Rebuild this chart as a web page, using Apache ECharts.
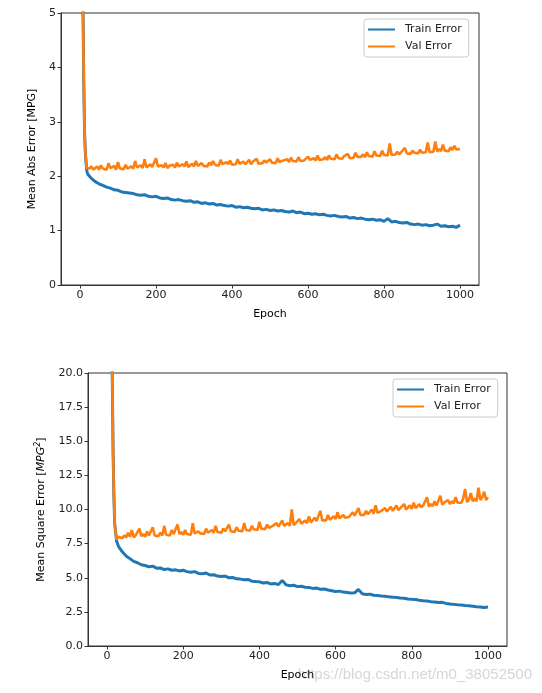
<!DOCTYPE html>
<html><head><meta charset="utf-8">
<script src="https://cdn.jsdelivr.net/npm/echarts@6/dist/echarts.min.js"></script>
<style>html,body{margin:0;padding:0;background:#fff}#c{width:542px;height:693px}</style>
</head><body><div id="c"></div>
<script>
// Epochs (train: every 10, val: every 5)
const epochsTrain = [0,2,4,6,8,10,12,14,16,18,20,25,30,
 40,50,60,70,80,90,100,110,120,130,
 140,150,160,170,180,190,200,210,220,230,
 240,250,260,270,280,290,300,310,320,330,
 340,350,360,370,380,390,400,410,420,430,
 440,450,460,470,480,490,500,510,520,530,
 540,550,560,570,580,590,600,610,620,630,
 640,650,660,670,680,690,700,710,720,730,
 740,750,760,770,780,790,800,810,820,830,
 840,850,860,870,880,890,900,910,920,930,
 940,950,960,970,980,990,1000];

const epochsVal = [0,2,4,6,8,10,12,14,16,18,20,25,30,35,
 40,45,50,55,60,65,70,75,80,85,90,95,100,105,110,115,120,125,130,135,
 140,145,150,155,160,165,170,175,180,185,190,195,200,205,210,215,220,225,230,235,
 240,245,250,255,260,265,270,275,280,285,290,295,300,305,310,315,320,325,330,335,
 340,345,350,355,360,365,370,375,380,385,390,395,400,405,410,415,420,425,430,435,
 440,445,450,455,460,465,470,475,480,485,490,495,500,505,510,515,520,525,530,535,
 540,545,550,555,560,565,570,575,580,585,590,595,600,605,610,615,620,625,630,635,
 640,645,650,655,660,665,670,675,680,685,690,695,700,705,710,715,720,725,730,735,
 740,745,750,755,760,765,770,775,780,785,790,795,800,805,810,815,820,825,830,835,
 840,845,850,855,860,865,870,875,880,885,890,895,900,905,910,915,920,925,930,935,
 940,945,950,955,960,965,970,975,980,985,990,995,1000];

const maeTrain = [22,17,12,7.5,5.0,3.7,2.8,2.45,2.25,2.1,2.04,2.0,1.96,
 1.90,1.86,1.83,1.80,1.78,1.75,1.74,1.71,1.70,1.69,
 1.68,1.66,1.65,1.66,1.63,1.62,1.63,1.60,1.59,1.60,
 1.57,1.56,1.57,1.55,1.54,1.55,1.52,1.53,1.50,1.51,
 1.49,1.50,1.47,1.48,1.46,1.45,1.46,1.43,1.44,1.42,
 1.43,1.41,1.40,1.41,1.38,1.39,1.37,1.38,1.36,1.37,
 1.35,1.34,1.36,1.33,1.34,1.31,1.32,1.30,1.31,1.29,
 1.30,1.28,1.27,1.28,1.26,1.25,1.26,1.23,1.24,1.22,
 1.23,1.21,1.20,1.21,1.19,1.20,1.17,1.22,1.16,1.17,
 1.15,1.14,1.15,1.12,1.11,1.12,1.10,1.11,1.09,1.10,
 1.12,1.08,1.09,1.07,1.08,1.06,1.10];

const maeVal = [22,17,12,7.5,5.0,3.7,2.8,2.45,2.25,2.15,2.12,2.14,2.18,2.12,
 2.13,2.18,2.12,2.20,2.14,2.16,2.12,2.24,2.15,2.13,2.19,2.12,2.26,2.14,2.17,2.13,2.21,2.14,2.12,2.18,
 2.14,2.28,2.16,2.13,2.20,2.15,2.31,2.16,2.14,2.22,2.17,2.15,2.33,2.18,2.15,2.20,2.16,2.24,2.15,2.19,
 2.17,2.21,2.16,2.25,2.18,2.15,2.22,2.18,2.27,2.17,2.20,2.23,2.18,2.28,2.19,2.17,2.24,2.19,2.22,2.18,
 2.25,2.20,2.28,2.21,2.23,2.19,2.30,2.22,2.20,2.26,2.22,2.29,2.21,2.24,2.22,2.31,2.23,2.21,2.27,2.22,
 2.24,2.30,2.22,2.27,2.24,2.32,2.23,2.26,2.24,2.29,2.25,2.23,2.31,2.25,2.27,2.24,2.33,2.26,2.24,2.29,
 2.27,2.31,2.26,2.34,2.28,2.30,2.27,2.35,2.28,2.31,2.29,2.27,2.36,2.30,2.28,2.33,2.29,2.38,2.30,2.32,
 2.31,2.35,2.30,2.38,2.32,2.34,2.31,2.40,2.33,2.35,2.32,2.37,2.34,2.41,2.33,2.36,2.34,2.43,2.35,2.37,
 2.36,2.40,2.35,2.44,2.37,2.39,2.36,2.46,2.38,2.41,2.37,2.47,2.39,2.41,2.38,2.60,2.39,2.42,2.40,2.45,
 2.40,2.44,2.41,2.52,2.42,2.45,2.41,2.47,2.43,2.44,2.42,2.49,2.43,2.46,2.44,2.62,2.44,2.47,2.45,2.64,
 2.45,2.50,2.46,2.58,2.47,2.49,2.46,2.53,2.48,2.56,2.49,2.52,2.50];

const mseTrain = [560,350,180,90,45,30,23,19,14,11,9.0,7.7,7.3,
 6.9,6.6,6.4,6.2,6.1,5.95,5.9,5.8,5.85,5.7,
 5.72,5.6,5.65,5.55,5.58,5.5,5.55,5.45,5.4,5.45,
 5.32,5.3,5.35,5.2,5.22,5.12,5.1,5.12,5.0,5.02,
 4.92,4.9,4.85,4.88,4.75,4.72,4.7,4.62,4.65,4.55,
 4.58,4.5,4.8,4.48,4.42,4.45,4.35,4.38,4.3,4.28,
 4.22,4.25,4.15,4.18,4.1,4.05,4.0,4.02,3.95,3.92,
 3.88,3.9,4.15,3.82,3.78,3.8,3.72,3.7,3.66,3.65,
 3.6,3.58,3.55,3.52,3.5,3.45,3.42,3.4,3.35,3.32,
 3.3,3.25,3.22,3.18,3.2,3.12,3.08,3.05,3.02,3.0,
 2.96,2.95,2.92,2.88,2.85,2.82,2.85];

const mseVal = [560,350,180,90,45,30,23,19,14,11,9.0,7.8,8.0,7.9,
 7.9,8.1,7.95,8.3,8.0,8.5,7.95,8.1,8.0,8.6,8.05,8.2,8.0,8.4,8.1,8.0,8.7,8.1,8.2,8.05,
 8.3,8.1,8.8,8.15,8.2,8.1,8.5,8.2,8.1,8.9,8.2,8.35,8.15,8.5,8.2,8.3,8.15,9.0,8.25,8.2,
 8.4,8.25,8.3,8.2,8.6,8.3,8.25,8.5,8.3,8.8,8.35,8.4,8.3,8.6,8.4,8.35,8.9,8.4,8.5,8.35,
 8.7,8.45,8.5,8.4,9.0,8.5,8.6,8.45,8.8,8.55,8.6,8.5,9.1,8.6,8.7,8.55,8.9,8.65,8.6,8.8,
 8.7,9.0,8.75,8.7,9.2,8.8,8.75,9.0,8.8,10.0,8.85,9.0,8.9,9.3,8.95,9.0,9.2,9.0,9.5,9.05,
 9.1,9.4,9.15,9.1,9.9,9.2,9.3,9.2,9.6,9.25,9.3,9.5,9.3,9.8,9.35,9.4,9.6,9.4,9.5,9.45,
 9.5,9.8,9.55,9.5,10.1,9.6,9.7,9.6,9.9,9.65,9.7,10.0,9.7,10.3,9.75,9.8,9.9,9.8,10.1,9.85,
 9.9,10.2,9.9,10.0,10.3,9.95,10.1,10.0,10.4,10.0,10.1,10.3,10.05,10.5,10.1,10.1,10.4,10.15,10.3,10.2,
 10.9,10.2,10.4,10.25,10.6,10.3,10.3,11.0,10.35,10.5,10.4,10.7,10.4,10.6,10.45,10.9,10.5,10.6,10.5,10.8,
 11.5,10.55,10.7,11.2,10.6,10.8,10.6,11.6,10.7,10.9,11.3,10.7,10.9];

const xTicks = [0,200,400,600,800,1000];
const seriesNames = ['Train Error','Val Error'];

const C_BLUE = '#1f77b4', C_ORANGE = '#ff7f0e';
const FONT = 'DejaVu Sans';
const pair = (xs, ys) => xs.map((x, i) => [x, ys[i]]);

function xAxis(gridIndex) {
  return {
    type: 'value', gridIndex, min: -50, max: 1050,
    name: 'Epoch', nameLocation: 'middle', nameGap: 24,
    nameTextStyle: {fontFamily: FONT, fontSize: 11, color: '#000'},
    axisLine: {show: true, onZero: false, lineStyle: {color: '#333', width: 1}},
    axisTick: {show: true, customValues: xTicks, length: 3.5, lineStyle: {color: '#333'}},
    axisLabel: {customValues: xTicks, fontFamily: FONT, fontSize: 11, color: '#222', margin: 5, formatter: v => String(v)},
    splitLine: {show: false}
  };
}
function yAxis(gridIndex, max, interval, name, gap, fmt, rich) {
  return {
    type: 'value', gridIndex, min: 0, max, interval,
    name, nameLocation: 'middle', nameGap: gap, nameRotate: 90,
    nameTextStyle: {fontFamily: FONT, fontSize: 11, color: '#000', rich: rich},
    axisLine: {show: true, onZero: false, lineStyle: {color: '#333', width: 1}},
    axisTick: {show: true, length: 3.5, lineStyle: {color: '#333'}},
    axisLabel: {fontFamily: FONT, fontSize: 11, color: '#222', margin: 5, formatter: fmt},
    splitLine: {show: false}
  };
}
function line(name, xi, data, color, z, w) {
  return {
    name, type: 'line', xAxisIndex: xi, yAxisIndex: xi, data, showSymbol: false,
    lineStyle: {color, width: w}, itemStyle: {color}, z, clip: true, animation: false
  };
}
function legend(left, top) {
  return {
    data: seriesNames.map(n => ({name: n, itemStyle: {}, lineStyle: {width: 2}})), orient: 'vertical', left, top,
    backgroundColor: 'rgba(255,255,255,0.8)', borderColor: '#ccc', borderWidth: 1, borderRadius: 3,
    padding: [5, 7, 5, 4], itemGap: 6, itemWidth: 27, itemHeight: 2, icon: 'rect',
    textStyle: {fontFamily: FONT, fontSize: 11, color: '#222', padding: [0, 0, 0, 5]}
  };
}

const chart = echarts.init(document.getElementById('c'), null, {renderer: 'canvas'});
chart.setOption({
  animation: false,
  backgroundColor: '#fff',
  grid: [
    {left: 61, top: 13, width: 418, height: 272, show: true, borderColor: '#333', borderWidth: 1, backgroundColor: 'transparent'},
    {left: 88, top: 373, width: 419, height: 273, show: true, borderColor: '#333', borderWidth: 1, backgroundColor: 'transparent'}
  ],
  xAxis: [xAxis(0), xAxis(1)],
  yAxis: [
    yAxis(0, 5, 1, 'Mean Abs Error [MPG]', 22, v => String(v)),
    yAxis(1, 20, 2.5, 'Mean Square Error [{i|MPG}{s|2}]', 40, v => v.toFixed(1),
      {i: {fontFamily: FONT, fontSize: 11, fontStyle: 'italic', color: '#000'},
       s: {fontFamily: FONT, fontSize: 8, fontStyle: 'italic', color: '#000', verticalAlign: 'top', padding: [0, 0, 6, 0]}})
  ],
  legend: [legend(364, 19), legend(393, 379)],
  series: [
    line('Train Error', 0, pair(epochsTrain, maeTrain), C_BLUE, 2, 3.0),
    line('Val Error', 0, pair(epochsVal, maeVal), C_ORANGE, 3, 2.6),
    line('Train Error', 1, pair(epochsTrain, mseTrain), C_BLUE, 2, 3.0),
    line('Val Error', 1, pair(epochsVal, mseVal), C_ORANGE, 3, 2.6)
  ],
  graphic: [{
    type: 'text', right: 10, top: 667, silent: true,
    style: {text: 'https://blog.csdn.net/m0_38052500', font: '15px Arial', fill: 'rgba(200,200,200,0.75)'}
  }]
});
</script></body></html>
